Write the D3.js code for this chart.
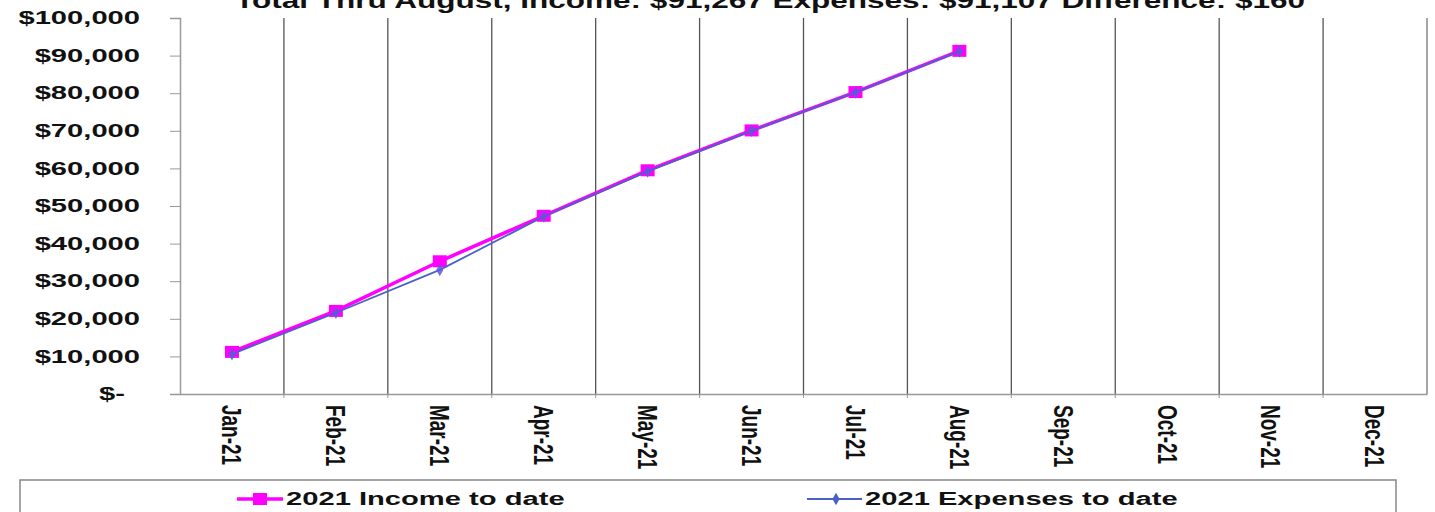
<!DOCTYPE html>
<html>
<head>
<meta charset="utf-8">
<script src="https://cdn.jsdelivr.net/npm/d3@7"></script>
<style>
  body { margin:0; background:#fff; }
  text { font-family: Arial, "Liberation Sans", sans-serif; font-weight:bold; fill:#111; }
</style>
</head>
<body>
<div id="vis"></div>
<script>
// data
var months   = ["Jan-21","Feb-21","Mar-21","Apr-21","May-21","Jun-21","Jul-21","Aug-21","Sep-21","Oct-21","Nov-21","Dec-21"];
var income   = [11200, 22100, 35300, 47400, 59500, 70100, 80300, 91267];
var expenses = [10600, 21600, 33000, 47200, 59200, 70000, 80200, 91107];
var yTicks   = [0,10000,20000,30000,40000,50000,60000,70000,80000,90000,100000];
var titleTxt = "Total Thru August, Income: $91,267 Expenses: $91,107 Difference: $160";
var legendNames = ["2021 Income to date", "2021 Expenses to date"];

var W = 1435, H = 512;
var m = {left:180, right:8, top:18, bottom:118};  // plot 180..1427, 18..394
var sx = 1.62;   // the original picture is stretched sideways

var svg = d3.select("#vis").append("svg")
  .attr("width", W).attr("height", H);

var x = d3.scaleBand().domain(months).range([m.left, W - m.right]);
var y = d3.scaleLinear().domain([0, 100000]).range([H - m.bottom, m.top]);

// title, cut at the top like the original
svg.append("text")
  .attr("x", 770).attr("y", 8)
  .attr("text-anchor", "middle")
  .attr("textLength", 1070).attr("lengthAdjust", "spacingAndGlyphs")
  .style("font-size", "22px")
  .text(titleTxt);

// vertical separators between months
svg.append("g").selectAll("line")
  .data(months.slice(1))
  .enter().append("line")
  .attr("x1", function(d){ return x(d); })
  .attr("x2", function(d){ return x(d); })
  .attr("y1", y(100000)).attr("y2", y(0))
  .attr("stroke", "#555").attr("stroke-width", 1.3);

// right border of plot
svg.append("line")
  .attr("x1", W - m.right).attr("x2", W - m.right)
  .attr("y1", y(100000)).attr("y2", y(0))
  .attr("stroke", "#777").attr("stroke-width", 1.3);

// y axis
var yAxis = d3.axisLeft(y).tickValues(yTicks).tickSize(10).tickPadding(0)
  .tickFormat(function(d){ return d === 0 ? "$-" : "$" + d3.format(",")(d); });
var gy = svg.append("g").attr("transform", "translate(" + m.left + ",0)").call(yAxis);
gy.select(".domain").attr("stroke", "#999").attr("stroke-width", 1.5);
gy.selectAll(".tick line").attr("stroke", "#999");
gy.selectAll(".tick text")
  .style("font-size", "18px").style("font-family", "Arial, 'Liberation Sans', sans-serif")
  .attr("fill", "#111")
  .attr("transform", "scale(" + sx + ",1)")
  .attr("x", function(d){ return (d === 0 ? -55 : -40) / sx; });

// x axis
var xAxis = d3.axisBottom(x).tickSize(0).tickPadding(0);
var gx = svg.append("g").attr("transform", "translate(0," + y(0) + ")").call(xAxis);
gx.select(".domain").attr("stroke", "#999").attr("stroke-width", 1.5);
gx.selectAll(".tick text")
  .style("font-size", "19px").style("font-family", "Arial, 'Liberation Sans', sans-serif")
  .attr("fill", "#111")
  .attr("text-anchor", "start")
  .attr("transform", "scale(1.45,1) rotate(90)")
  .attr("x", 11).attr("y", 0).attr("dy", "0.35em");
gx.selectAll(".bnd")
  .data(months.slice(1))
  .enter().append("line")
  .attr("x1", function(d){ return x(d); }).attr("x2", function(d){ return x(d); })
  .attr("y1", 0).attr("y2", 4).attr("stroke", "#999");

var cx = function(d, i){ return x(months[i]) + x.bandwidth() / 2; };
var line = d3.line().x(cx).y(function(d){ return y(d); });

// income
svg.append("path").datum(income)
  .attr("d", line).attr("fill", "none")
  .attr("stroke", "#ff00ff").attr("stroke-width", 3.5);
svg.append("g").selectAll("rect").data(income).enter().append("rect")
  .attr("x", function(d,i){ return cx(d,i) - 7; })
  .attr("y", function(d){ return y(d) - 6; })
  .attr("width", 14).attr("height", 12)
  .attr("fill", "#ff00ff");

// expenses
svg.append("path").datum(expenses)
  .attr("d", line).attr("fill", "none")
  .attr("stroke", "#4a62c8").attr("stroke-width", 1.8);
var diamond = d3.symbol().type(d3.symbolDiamond).size(45);
svg.append("g").selectAll("path").data(expenses).enter().append("path")
  .attr("d", diamond)
  .attr("transform", function(d,i){ return "translate(" + cx(d,i) + "," + y(d) + ")"; })
  .attr("fill", "#5a5ad8").attr("opacity", 0.85);

// legend
svg.append("rect")
  .attr("x", 20).attr("y", 480).attr("width", 1376).attr("height", 60)
  .attr("fill", "none").attr("stroke", "#888").attr("stroke-width", 1.5);

var lg = svg.append("g");
lg.append("line").attr("x1", 237).attr("x2", 283).attr("y1", 499).attr("y2", 499)
  .attr("stroke", "#ff00ff").attr("stroke-width", 3.5);
lg.append("rect").attr("x", 253).attr("y", 493).attr("width", 14).attr("height", 12)
  .attr("fill", "#ff00ff");
lg.append("text").attr("transform", "translate(286,505) scale(" + sx + ",1)")
  .style("font-size", "18px")
  .text(legendNames[0]);

lg.append("line").attr("x1", 807).attr("x2", 862).attr("y1", 499).attr("y2", 499)
  .attr("stroke", "#4a62c8").attr("stroke-width", 1.8);
lg.append("path").attr("d", diamond)
  .attr("transform", "translate(836,499)").attr("fill", "#4a62c8");
lg.append("text").attr("transform", "translate(865,505) scale(" + sx + ",1)")
  .style("font-size", "18px")
  .text(legendNames[1]);
</script>
</body>
</html>
